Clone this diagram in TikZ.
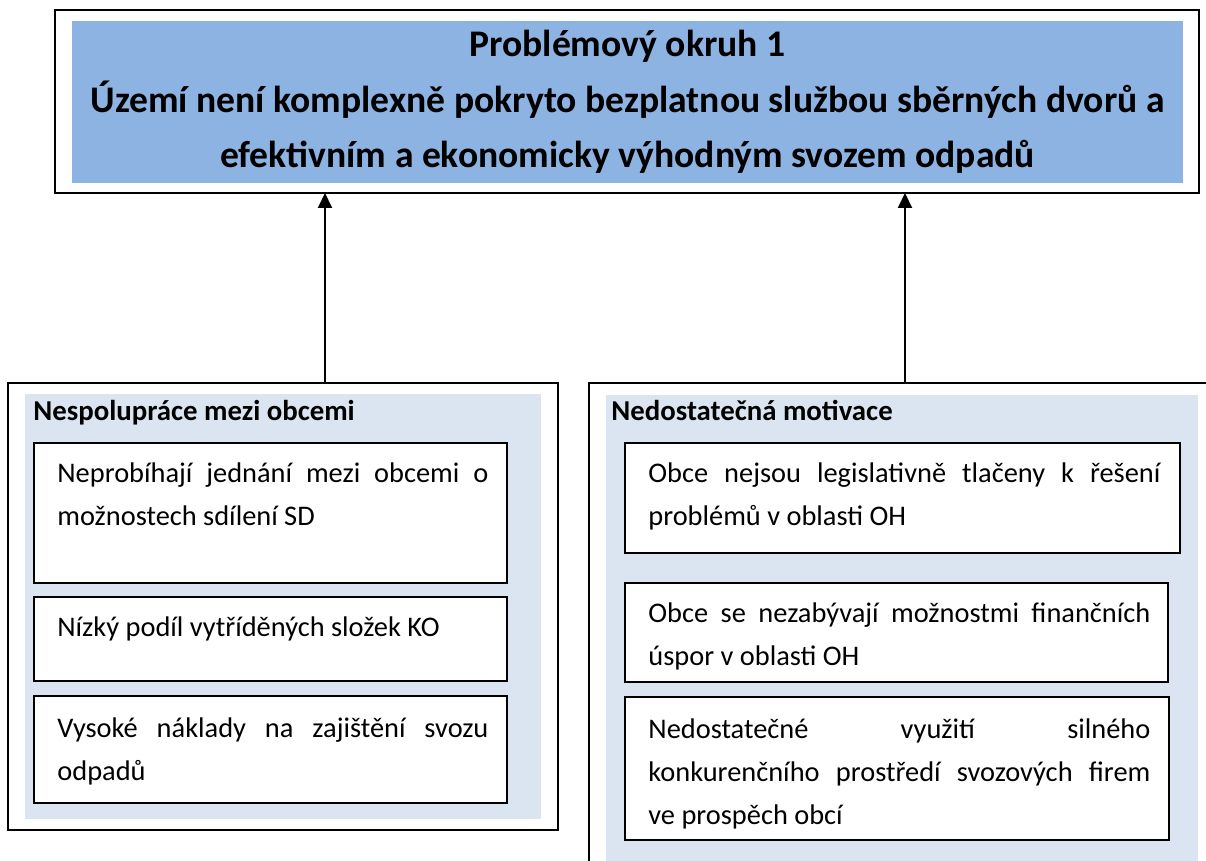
\documentclass[tikz,border=0pt]{standalone}
\usepackage{fontspec}
\setmainfont{Carlito}
\usetikzlibrary{arrows.meta,fit,positioning}
\definecolor{topblue}{HTML}{8DB3E2}
\definecolor{paleblue}{HTML}{DBE5F1}

\begin{document}
\begin{tikzpicture}[x=0.5pt,y=-0.5pt,
    frame/.style={draw,line width=1pt,inner sep=0pt,outer sep=0pt},
    panel/.style={fill=paleblue,inner sep=0pt,outer sep=0pt},
    cause/.style={draw,line width=1pt,fill=white,inner sep=0pt,outer sep=0pt},
    body/.style={anchor=base west,inner sep=0pt,align=justify,font=\fontsize{14.2pt}{21.5pt}\selectfont},
    head/.style={anchor=base west,inner sep=0pt,font=\fontsize{14.4pt}{21.5pt}\selectfont\bfseries},
    link/.style={-{Triangle[width=7pt,length=7.5pt]},line width=1pt}]

\useasboundingbox (0,0) rectangle (1206,861);

% problem box
\node[frame,fit={(55,10) (1199,193)}] (top) {};
\node[fill=topblue,inner sep=0pt,outer sep=0pt,fit={(72,21) (1183,183)}] (topfill) {};
\node[align=center,inner sep=0pt,font=\fontsize{18.8pt}{27.75pt}\selectfont\bfseries] (title) at (topfill.center)
  {Problémový okruh 1\\Území není komplexně pokryto bezplatnou službou sběrných dvorů a\\efektivním a ekonomicky výhodným svozem odpadů};

% left cause
\node[frame,fit={(8,383) (558,830)}] (left) {};
\node[panel,fit={(25,394) (541,819)}] (leftfill) {};
\node[head] (lefthead) at ([shift={(8,27)}]leftfill.north west) {Nespolupráce mezi obcemi};
\node[cause,fit={(34,443) (507,583)}] (l1) {};
\node[cause,fit={(34,597) (507,681)}] (l2) {};
\node[cause,fit={(34,696) (507,803)}] (l3) {};
\node[body,text width=215.5pt] (l1t) at ([shift={(23,39)}]l1.north west)
  {Neprobíhají jednání mezi obcemi o\linebreak možnostech sdílení SD};
\node[body,text width=215.5pt] (l2t) at ([shift={(23,39)}]l2.north west)
  {Nízký podíl vytříděných složek KO};
\node[body,text width=215.5pt] (l3t) at ([shift={(23,41)}]l3.north west)
  {Vysoké náklady na zajištění svozu\linebreak odpadů};

% right cause
\node[frame,fit={(589,383) (1222,880)}] (right) {};
\node[panel,fit={(606,395) (1198,880)}] (rightfill) {};
\node[head] (righthead) at ([shift={(5,26)}]rightfill.north west) {Nedostatečná motivace};
\node[cause,fit={(625,443) (1180,553)}] (r1) {};
\node[cause,fit={(625,583) (1168,682)}] (r2) {};
\node[cause,fit={(625,697) (1169,840)}] (r3) {};
\node[body,text width=256pt] (r1t) at ([shift={(23,39)}]r1.north west)
  {Obce nejsou legislativně tlačeny k~řešení\linebreak problémů v oblasti OH};
\node[body,text width=251pt] (r2t) at ([shift={(23,39)}]r2.north west)
  {Obce se nezabývají možnostmi finančních\linebreak úspor v oblasti OH};
\node[body,text width=251pt] (r3t) at ([shift={(23,41)}]r3.north west)
  {Nedostatečné využití silného\linebreak konkurenčního prostředí svozových firem\linebreak ve prospěch obcí};

% arrows
\coordinate (a1) at (325,0);
\coordinate (a2) at (905,0);
\draw[link] (left.north -| a1) -- (top.south -| a1);
\draw[link] (right.north -| a2) -- (top.south -| a2);
\end{tikzpicture}
\end{document}
